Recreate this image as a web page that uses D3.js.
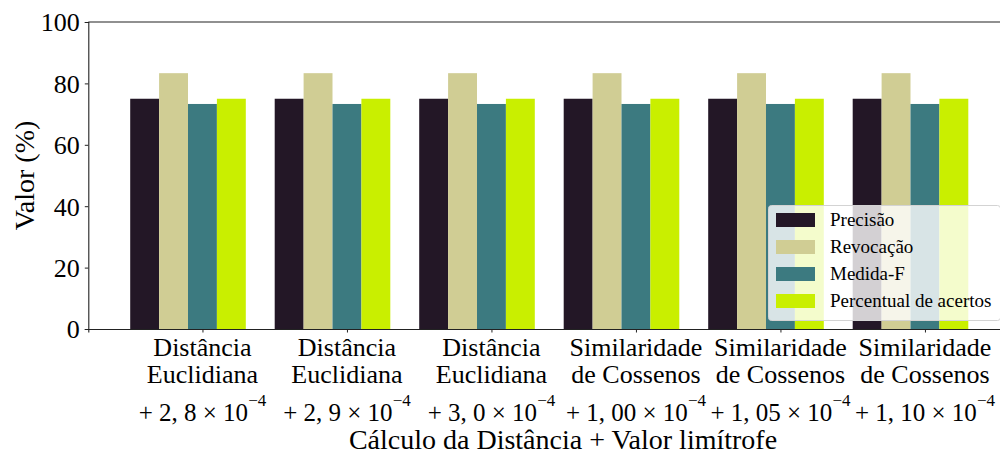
<!DOCTYPE html>
<html>
<head>
<meta charset="utf-8">
<script src="https://cdn.jsdelivr.net/npm/d3@7"></script>
<style>
  html, body { margin: 0; padding: 0; background: #fff; }
</style>
</head>
<body>
<svg id="chart" width="1000" height="457"></svg>
<script>
// Distance method, first two lines of each category label
const methodLine1 = ["Distância", "Distância", "Distância", "Similaridade", "Similaridade", "Similaridade"];
const methodLine2 = ["Euclidiana", "Euclidiana", "Euclidiana", "de Cossenos", "de Cossenos", "de Cossenos"];
// Threshold coefficients (× 10^-4)
const thresholds = ["2, 8", "2, 9", "3, 0", "1, 00", "1, 05", "1, 10"];

// Metric series (%)
const seriesNames = ["Precisão", "Revocação", "Medida-F", "Percentual de acertos"];
const precisao   = [75, 75, 75, 75, 75, 75];
const revocacao  = [83.33, 83.33, 83.33, 83.33, 83.33, 83.33];
const medidaF    = [73.3, 73.3, 73.3, 73.3, 73.3, 73.3];
const percentual = [75, 75, 75, 75, 75, 75];
const seriesColors = ["#231726", "#d0cd94", "#3c7a80", "#c9ef00"];

const yTicks = [0, 20, 40, 60, 80, 100];

const series = [precisao, revocacao, medidaF, percentual];
const barW = 0.2;
const FONT = "Liberation Serif";

const svg = d3.select("#chart");

// Group index scale (bars sit at i + k*0.2)
const x = d3.scaleLinear().domain([-0.39, 5.99]).range([88.3, 1010.2]);
const y = d3.scaleLinear().domain([0, 100]).range([329, 22]);

// Bars
series.forEach((vals, k) => {
  svg.append("g")
    .attr("fill", seriesColors[k])
    .selectAll("rect")
    .data(vals)
    .join("rect")
    .attr("x", (d, i) => x(i + k * barW - barW / 2))
    .attr("width", (d, i) => x(i + k * barW + barW / 2) - x(i + k * barW - barW / 2))
    .attr("y", d => y(d))
    .attr("height", d => y(0) - y(d));
});

// Top spine
const spine = "#222";
svg.append("line").attr("x1", x.range()[0]).attr("x2", x.range()[1])
  .attr("y1", y(100)).attr("y2", y(100)).attr("stroke", spine).attr("stroke-width", 1.1);

// Y axis
const yAxis = svg.append("g")
  .attr("transform", `translate(${x.range()[0]},0)`)
  .call(d3.axisLeft(y).tickValues(yTicks).tickSize(3.5).tickPadding(5));
yAxis.select(".domain").attr("stroke", spine).attr("stroke-width", 1.1);
yAxis.selectAll(".tick line").attr("stroke", spine);
yAxis.selectAll(".tick text")
  .style("font-family", FONT)
  .attr("font-size", 26).attr("fill", "#000").attr("dy", "0.34em");

// X axis (ticks at the third bar of each group)
const tickPos = methodLine1.map((d, i) => i + 2 * barW);
const xAxis = svg.append("g")
  .attr("transform", `translate(0,${y(0)})`)
  .call(d3.axisBottom(x).tickValues(tickPos).tickSize(3.5).tickFormat(""));
xAxis.select(".domain").attr("stroke", spine).attr("stroke-width", 1.1);
xAxis.selectAll(".tick line").attr("stroke", spine);

// Multi-line category labels
const labels = svg.append("g")
  .attr("text-anchor", "middle")
  .attr("fill", "#000");
tickPos.forEach((p, i) => {
  const cx = x(p);
  labels.append("text").attr("x", cx).attr("y", 356)
    .style("font-family", FONT).attr("font-size", 26).text(methodLine1[i]);
  labels.append("text").attr("x", cx).attr("y", 383)
    .style("font-family", FONT).attr("font-size", 26).text(methodLine2[i]);
  const t = labels.append("text").attr("x", cx).attr("y", 421)
    .style("font-family", FONT).attr("font-size", 25);
  t.append("tspan").text("+ " + thresholds[i] + " × 10");
  t.append("tspan").attr("dy", -15).attr("font-size", 17).text("−4");
});

// Axis titles
svg.append("text")
  .attr("x", 563)
  .attr("y", 449)
  .attr("text-anchor", "middle")
  .style("font-family", FONT)
  .attr("font-size", 28)
  .text("Cálculo da Distância + Valor limítrofe");

svg.append("text")
  .attr("transform", `translate(34,${(y(0) + y(100)) / 2}) rotate(-90)`)
  .attr("text-anchor", "middle")
  .style("font-family", FONT)
  .attr("font-size", 28)
  .text("Valor (%)");

// Legend
const legend = svg.append("g").attr("transform", "translate(768,205)");
legend.append("rect")
  .attr("x", 0.5).attr("y", 0.5).attr("width", 232).attr("height", 115)
  .attr("rx", 3).attr("ry", 3)
  .attr("fill", "#fff").attr("fill-opacity", 0.8)
  .attr("stroke", "#d3d3d3").attr("stroke-width", 1);
seriesNames.forEach((name, k) => {
  const row = legend.append("g").attr("transform", `translate(0,${15 + k * 27})`);
  row.append("rect").attr("x", 8).attr("y", -7).attr("width", 39).attr("height", 14)
    .attr("fill", seriesColors[k]);
  row.append("text").attr("x", 62).attr("y", 6)
    .style("font-family", FONT).attr("font-size", 19).text(name);
});
</script>
</body>
</html>
